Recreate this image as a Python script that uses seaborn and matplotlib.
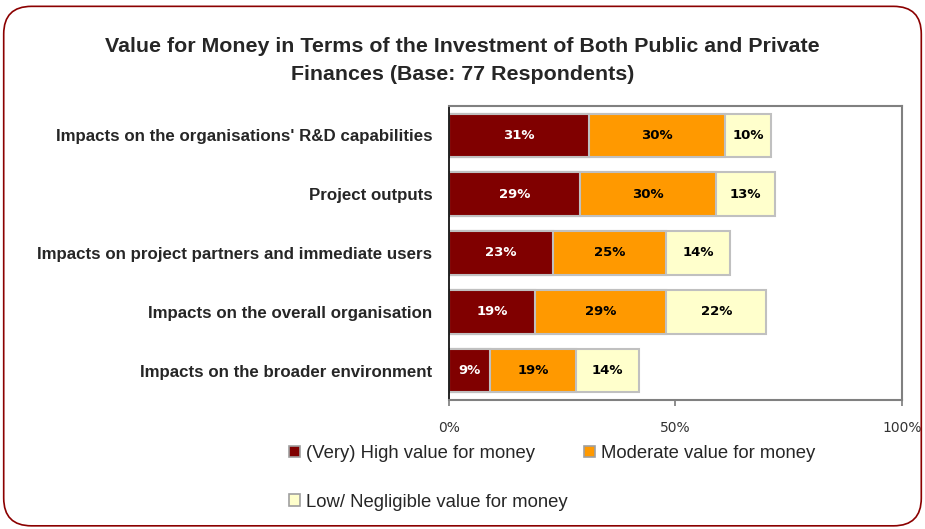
import matplotlib
matplotlib.use("Agg")
import matplotlib.pyplot as plt
import seaborn as sns
import pandas as pd
import numpy as np
from matplotlib.patches import Patch, FancyBboxPatch

categories = [
    "Impacts on the organisations' R&D capabilities",
    "Project outputs",
    "Impacts on project partners and immediate users",
    "Impacts on the overall organisation",
    "Impacts on the broader environment",
]
high = [31, 29, 23, 19, 9]
moderate = [30, 30, 25, 29, 19]
low = [10, 13, 14, 22, 14]
series_names = ["(Very) High value for money", "Moderate value for money", "Low/ Negligible value for money"]
colors = ["#800000", "#FF9900", "#FFFFCC"]
xticks = [0, 50, 100]
xticklabels = ["0%", "50%", "100%"]

sns.set_theme(style="white")
plt.rcParams["font.family"] = ["Liberation Sans", "DejaVu Sans"]

fig = plt.figure(figsize=(9.25, 5.29), dpi=100)
ax = fig.add_axes([0.4854, 0.2439, 0.4897, 0.5557])

df = pd.DataFrame({"cat": categories, "high": high, "moderate": moderate, "low": low})
df["c1"] = df["high"]
df["c2"] = df["high"] + df["moderate"]
df["c3"] = df["c2"] + df["low"]

for col, colr in zip(["c3", "c2", "c1"], colors[::-1]):
    sns.barplot(data=df, x=col, y="cat", orient="h", color=colr, width=0.74,
                edgecolor="#C0C0C0", linewidth=1.5, saturation=1, ax=ax)

for i in range(len(categories)):
    starts = [0, df["c1"][i], df["c2"][i]]
    vals = [high[i], moderate[i], low[i]]
    for j, (s, v) in enumerate(zip(starts, vals)):
        ax.text(s + v / 2, i, f"{v}%", ha="center", va="center", fontsize=9.5,
                fontweight="bold", family="DejaVu Sans",
                color="white" if j == 0 else "black")

ax.set_xlim(0, 100)
ax.set_xticks(xticks)
ax.set_xticklabels(xticklabels, fontsize=10, color="#333333", family="DejaVu Sans")
ax.set_xlabel("")
ax.set_ylabel("")
ax.tick_params(axis="y", length=0, pad=12, labelsize=12.2)
for lbl in ax.get_yticklabels():
    lbl.set_fontweight("bold")
ax.tick_params(axis="x", length=4, direction="out", bottom=True, color="#808080", pad=11)
for side in ["top", "right", "bottom"]:
    ax.spines[side].set_color("#808080")
    ax.spines[side].set_linewidth(1.5)
ax.spines["left"].set_color("black")
ax.spines["left"].set_linewidth(1.2)

fig.suptitle("Value for Money in Terms of the Investment of Both Public and Private\nFinances (Base: 77 Respondents)",
             x=0.5, y=0.93, fontsize=15.4, fontweight="bold", linespacing=1.6)

handles = [Patch(facecolor=c, edgecolor="#A0A0A0", linewidth=1.2) for c in colors]
order = [0, 2, 1]
fig.legend([handles[k] for k in order], [series_names[k] for k in order],
           loc="upper left", bbox_to_anchor=(0.3025, 0.176), ncol=2,
           frameon=False, fontsize=13.3, handlelength=0.6, handleheight=0.6, handletextpad=0.3,
           columnspacing=0.9, labelspacing=1.7, borderpad=0)

border = FancyBboxPatch((0.004, 0.006), 0.992, 0.982, boxstyle="round,pad=0,rounding_size=0.03",
                        transform=fig.transFigure, fill=False, edgecolor="#8B0000", linewidth=1.2,
                        mutation_aspect=925/529)
fig.patches.append(border)

fig.savefig("out.png", dpi=100)
